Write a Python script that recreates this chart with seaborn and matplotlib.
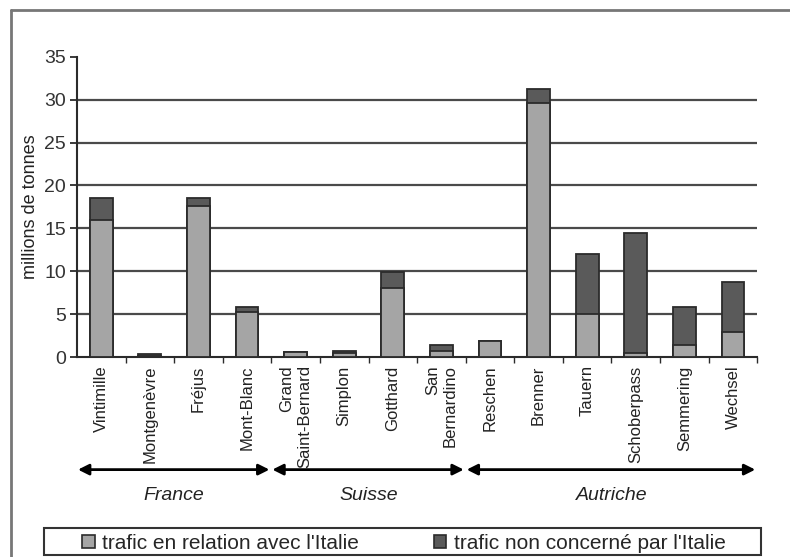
import matplotlib
matplotlib.use("Agg")
import matplotlib.pyplot as plt
import seaborn as sns
from matplotlib.lines import Line2D
from matplotlib.patches import Patch, Rectangle
import matplotlib.transforms as mtransforms

passes = ["Vintimille", "Montgenèvre", "Fréjus", "Mont-Blanc", "Grand\nSaint-Bernard",
          "Simplon", "Gotthard", "San\nBernardino", "Reschen", "Brenner", "Tauern",
          "Schoberpass", "Semmering", "Wechsel"]
trafic_italie = [16.0, 0.1, 17.6, 5.3, 0.6, 0.5, 8.0, 0.7, 1.9, 29.6, 5.0, 0.5, 1.4, 2.9]
trafic_autre = [2.5, 0.3, 0.9, 0.5, 0.0, 0.2, 1.9, 0.7, 0.0, 1.6, 7.0, 14.0, 4.4, 5.8]
groupes = ["France", "Suisse", "Autriche"]
groupes_debut = [0, 4, 8]
groupes_fin = [3, 7, 13]

clair = "#a5a5a5"
fonce = "#5a5a5a"
bord = "#2b2b2b"

sns.set_style("white")
plt.rcParams["font.family"] = ["Liberation Sans", "DejaVu Sans"]

fig = plt.figure(figsize=(7.9, 5.57), dpi=100)
ax = fig.add_axes([0.0975, 0.359, 0.861, 0.539])

totaux = [a + b for a, b in zip(trafic_italie, trafic_autre)]
sns.barplot(x=passes, y=totaux, color=fonce, width=0.47, edgecolor=bord,
            linewidth=1.3, saturation=1, ax=ax, zorder=3)
sns.barplot(x=passes, y=trafic_italie, color=clair, width=0.47, edgecolor=bord,
            linewidth=1.3, saturation=1, ax=ax, zorder=3)

ax.set_ylim(0, 35)
ax.set_xlim(-0.5, len(passes) - 0.5)
ax.set_yticks(range(0, 36, 5))
ax.tick_params(axis="y", labelsize=14, length=5, width=1.3, color=bord,
               labelcolor="#333333", pad=3, direction="out", left=True)
for y in range(5, 35, 5):
    ax.axhline(y, color="#4a4a4a", lw=1.6, zorder=1)

ax.set_xticks(range(len(passes)))
ax.set_xticklabels(passes, rotation=90, fontsize=12, color="#222222",
                   va="top", ha="center", multialignment="right")
ax.tick_params(axis="x", length=0, pad=6)
ax.set_xticks([i + 0.5 for i in range(len(passes))], minor=True)
ax.tick_params(axis="x", which="minor", length=4, width=1, color=bord,
               direction="out", bottom=True)

for s in ["top", "right"]:
    ax.spines[s].set_visible(False)
for s in ["left", "bottom"]:
    ax.spines[s].set_color(bord)
    ax.spines[s].set_linewidth(1.5)

ax.set_xlabel("")
ax.set_ylabel("millions de tonnes", fontsize=13, color="#222222", labelpad=4)

trans = mtransforms.blended_transform_factory(ax.transData, ax.transAxes)
for nom, d, f in zip(groupes, groupes_debut, groupes_fin):
    ax.annotate("", xy=(d - 0.48, -0.375), xytext=(f + 0.46, -0.375),
                xycoords=trans, textcoords=trans, annotation_clip=False,
                arrowprops=dict(arrowstyle="<|-|>", color="black", lw=2,
                                mutation_scale=16, shrinkA=0, shrinkB=0))
    ax.text((d + f) / 2, -0.46, nom, transform=trans, ha="center", va="center",
            fontsize=14, style="italic", color="#222222")

# cadre de la légende
fig.add_artist(Rectangle((44 / 790, 2 / 557), 717 / 790, 27 / 557, fill=False,
                         edgecolor="#333333", lw=1.5, transform=fig.transFigure))
handles = [Patch(facecolor=clair, edgecolor=bord, lw=1.2),
           Patch(facecolor=fonce, edgecolor=bord, lw=1.2)]
leg = fig.legend(handles, ["trafic en relation avec l'Italie",
                           "trafic non concerné par l'Italie"],
                 loc="lower left", bbox_to_anchor=(78 / 790, 0.0), ncol=2,
                 fontsize=15, frameon=False, handlelength=0.6,
                 handleheight=0.6, handletextpad=0.35, columnspacing=3.6,
                 borderpad=0.2, borderaxespad=0)

fig.add_artist(Line2D([0.014, 0.014], [0.0, 0.982], color="#777777", lw=2,
                      transform=fig.transFigure))
fig.add_artist(Line2D([0.014, 1.0], [0.982, 0.982], color="#777777", lw=2,
                      transform=fig.transFigure))

fig.savefig("out.png", dpi=100)
